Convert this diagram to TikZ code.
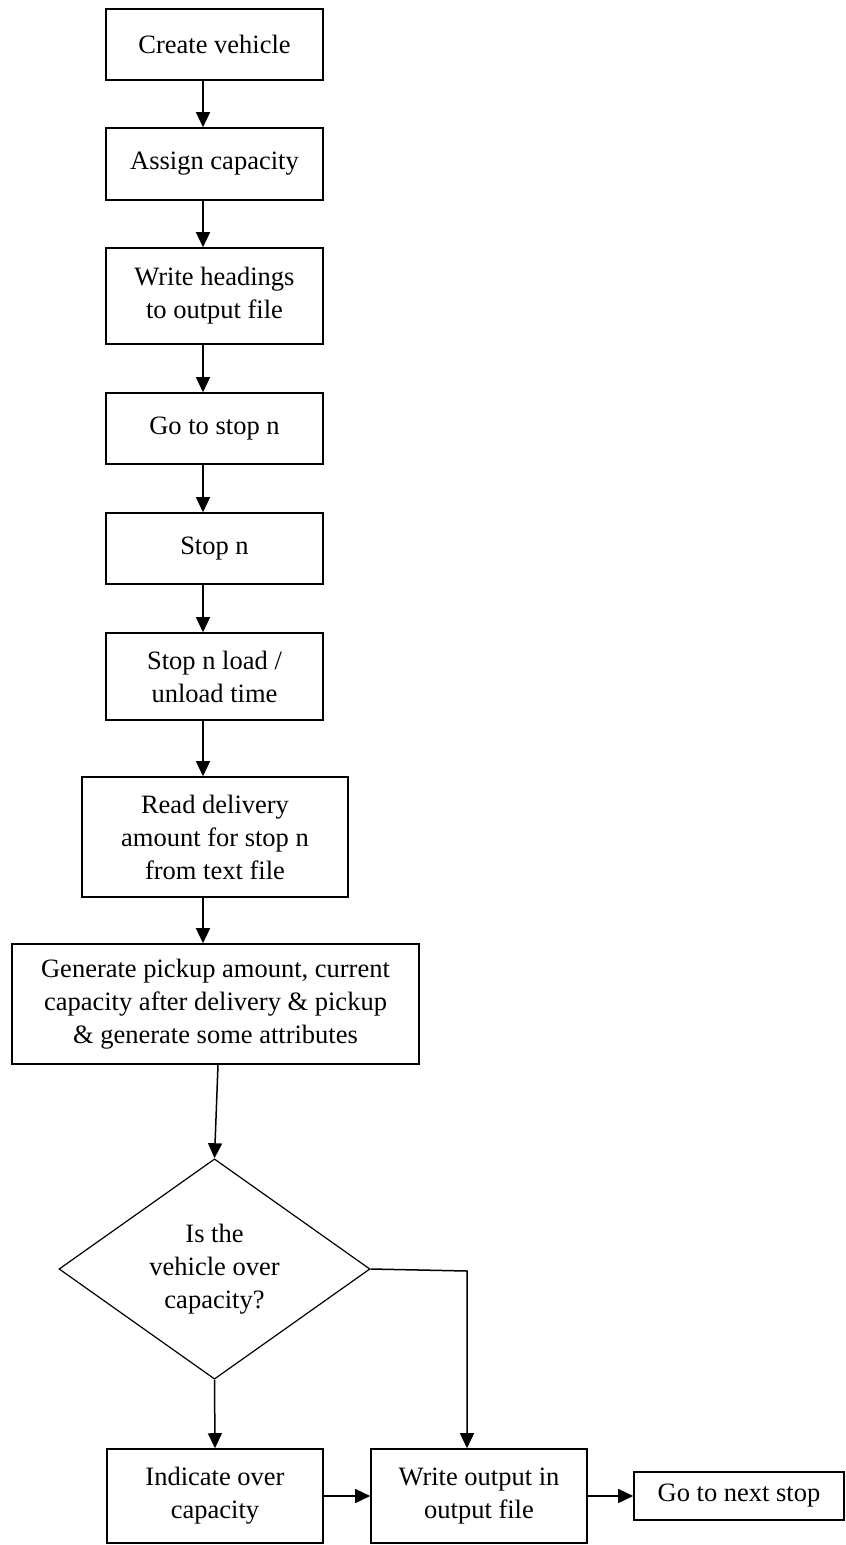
\documentclass[tikz,border=0pt]{standalone}
\usepackage{fontspec}
\setmainfont{Liberation Serif}
\usetikzlibrary{arrows.meta,shapes.geometric}

\tikzset{
  box/.style={draw, line width=1.6pt, align=center, inner sep=0pt,
    minimum width=217pt, minimum height=71pt},
  decision/.style={draw, diamond, line width=1.2pt, align=center, inner sep=0pt,
    minimum width=311pt, minimum height=214pt},
  flow/.style={->, line width=1.5pt},
}

\begin{document}
\begin{tikzpicture}[x=1pt, y=-1pt, >={Triangle[length=15pt,width=14pt]},
  font=\fontsize{26.5}{33}\selectfont]
\useasboundingbox (0,0) rectangle (846,1545);

\node[box] (create) at (214.5,44.5) {Create vehicle};
\node[box, minimum height=72pt] (assign) at (214.5,164) {Assign capacity};
\node[box, minimum height=96pt] (headings) at (214.5,296) {Write headings\\to output file};
\node[box] (gostop) at (214.5,428.5) {Go to stop n};
\node[box] (stopn) at (214.5,548.5) {Stop n};
\node[box, minimum height=87pt] (loadtime) at (214.5,676.5) {Stop n load /\\unload time};
\node[box, minimum width=266pt, minimum height=120pt] (readdel) at (215,837)
  {Read delivery\\amount for stop n\\from text file};
\node[box, minimum width=407pt, minimum height=120pt] (generate) at (215.5,1004)
  {Generate pickup amount, current\\capacity after delivery \& pickup\\\& generate some attributes};
\node[decision] (over) at (214.5,1269) {Is the\\vehicle over\\capacity?};
\node[box, minimum width=216pt, minimum height=94pt] (indicate) at (215,1496) {Indicate over\\capacity};
\node[box, minimum width=216pt, minimum height=94pt] (writeout) at (479,1496) {Write output in\\output file};
\node[box, minimum width=210pt, minimum height=48pt] (nextstop) at (739,1496) {Go to next stop};

% arrows down the left column
\coordinate (spine) at (203,0);
\draw[flow] (create.south -| spine) -- (assign.north -| spine);
\draw[flow] (assign.south -| spine) -- (headings.north -| spine);
\draw[flow] (headings.south -| spine) -- (gostop.north -| spine);
\draw[flow] (gostop.south -| spine) -- (stopn.north -| spine);
\draw[flow] (stopn.south -| spine) -- (loadtime.north -| spine);
\draw[flow] (loadtime.south -| spine) -- (readdel.north -| spine);
\draw[flow] (readdel.south -| spine) -- (generate.north -| spine);
\draw[flow] ([xshift=2.5pt]generate.south) -- (over.north);

% the two branches
\coordinate (bend) at (467,1271);
\draw[flow] (over.south) -- (indicate.north);
\draw[flow] (over.east) -- (bend) -- (writeout.north -| bend);
\draw[flow] (indicate.east) -- (writeout.west);
\draw[flow] (writeout.east) -- (nextstop.west);
\end{tikzpicture}
\end{document}
